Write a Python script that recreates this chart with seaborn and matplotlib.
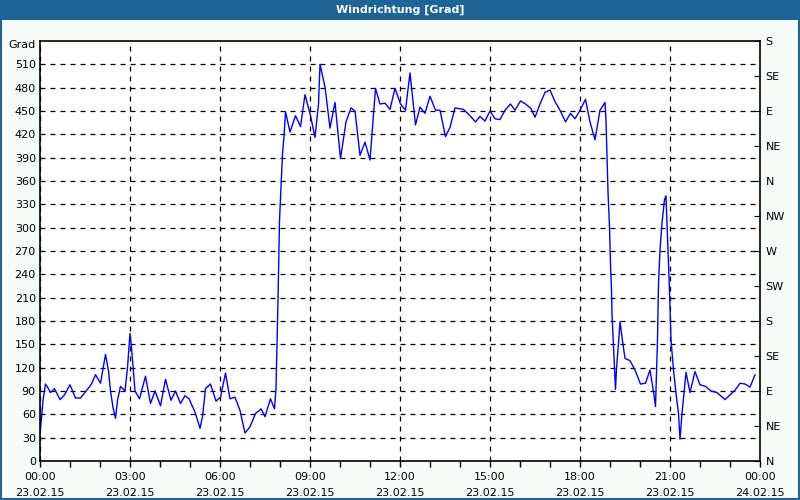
import seaborn as sns
import pandas as pd
import matplotlib.pyplot as plt
import matplotlib.dates as mdates
from matplotlib.patches import Rectangle

# readings: time of day (23.02.15) and wind direction in degrees
times = ["00:00","00:04","00:06","00:11","00:15","00:21","00:29","00:40","00:49","01:00",
         "01:11","01:21","01:36","01:43","01:51","02:01","02:11","02:17","02:21","02:26",
         "02:31","02:35","02:41","02:50","02:55","03:00","03:03","03:10","03:19","03:31",
         "03:41","03:50","04:01","04:11","04:22","04:31","04:41","04:50","04:58","05:10",
         "05:20","05:25","05:31","05:41","05:52","06:01","06:11","06:20","06:30","06:40",
         "06:50","07:00","07:11","07:22","07:30","07:41","07:49","07:52","07:54","07:56",
         "07:59","08:02","08:05","08:08","08:11","08:20","08:31","08:41","08:50","09:01",
         "09:10","09:17","09:20","09:30","09:40","09:50","10:01","10:12","10:22","10:30",
         "10:40","10:50","11:00","11:11","11:20","11:30","11:40","11:50","12:01","12:11",
         "12:20","12:31","12:40","12:50","13:00","13:11","13:20","13:31","13:40","13:50",
         "14:07","14:20","14:31","14:40","14:50","15:00","15:10","15:20","15:30","15:41",
         "15:50","16:01","16:11","16:22","16:30","16:40","16:50","17:00","17:10","17:20",
         "17:31","17:41","17:50","18:00","18:11","18:20","18:30","18:40","18:50","18:52",
         "18:54","18:56","18:59","19:01","19:03","19:04","19:06","19:08","19:11","19:13",
         "19:17","19:20","19:24","19:30","19:40","19:50","20:01","20:11","20:20","20:28",
         "20:31","20:35","20:37","20:40","20:44","20:49","20:52","20:55","20:59","21:02",
         "21:07","21:12","21:17","21:20","21:24","21:28","21:32","21:40","21:50","22:00",
         "22:11","22:22","22:34","22:50","23:10","23:20","23:30","23:40","23:50"]
degrees = [36,62,78,99,95,88,93,79,85,98,
           81,81,93,99,111,100,137,116,90,69,
           55,78,96,90,120,164,146,90,80,109,
           74,90,71,105,78,90,74,84,80,63,
           42,57,93,99,77,82,113,80,82,65,
           36,44,61,67,57,80,67,93,151,207,
           309,352,395,417,449,423,444,430,471,444,
           416,459,510,481,428,461,389,436,454,450,
           393,410,387,479,459,460,452,479,459,451,
           499,432,455,447,469,451,451,417,429,454,
           452,444,436,443,437,450,440,439,451,459,
           451,463,459,453,442,459,474,477,462,451,
           436,447,440,451,465,436,413,451,461,438,
           391,346,301,254,219,189,162,136,92,119,
           151,179,159,132,129,117,99,100,117,85,
           70,156,228,271,306,336,341,288,218,156,
           117,87,61,28,61,87,114,88,115,98,
           96,90,88,79,91,100,99,95,111]

left_ticks = list(range(0, 540, 30))
compass_ticks = list(range(0, 541, 45))
compass_labels = ["N", "NE", "E", "SE", "S", "SW", "W", "NW", "N", "NE", "E", "SE", "S"]

df = pd.DataFrame({"time": pd.to_datetime(["2015-02-23 " + t for t in times]),
                   "deg": degrees})

sns.set_style("white")
plt.rcParams["font.family"] = ["DejaVu Sans"]
plt.rcParams["text.color"] = "black"
plt.rcParams["xtick.color"] = "black"
plt.rcParams["ytick.color"] = "black"
plt.rcParams["xtick.labelcolor"] = "black"
plt.rcParams["ytick.labelcolor"] = "black"

bg = "#f8fcf8"
blue_bar = "#1e6496"

fig = plt.figure(figsize=(8, 5), dpi=100, facecolor=bg)
ax = fig.add_axes([0.05, 0.078, 0.90, 0.84])
ax.set_facecolor("white")

sns.lineplot(data=df, x="time", y="deg", color="#0000ff", linewidth=1, ax=ax)

ax.set_xlim(pd.Timestamp("2015-02-23 00:00"), pd.Timestamp("2015-02-24 00:00"))
ax.set_ylim(0, 540)
ax.set_yticks(left_ticks)
ax.xaxis.set_major_locator(mdates.HourLocator(interval=3))
ax.xaxis.set_minor_locator(mdates.HourLocator())
ax.xaxis.set_major_formatter(mdates.DateFormatter("%H:%M\n%d.%m.%y"))
ax.set_xlabel("")
ax.set_ylabel("")
ax.grid(True, which="major", color="black", linestyle=(0, (4, 4)), linewidth=0.9)
for s in ax.spines.values():
    s.set_color("black")
    s.set_linewidth(1.2)
ax.tick_params(axis="x", which="both", direction="out", length=4, width=1,
               labelsize=8, pad=4, bottom=True)
ax.tick_params(axis="y", direction="out", length=0, labelsize=8, pad=3)
for lbl in ax.get_xticklabels():
    lbl.set_linespacing(1.75)

ax2 = ax.twinx()
ax2.set_ylim(0, 540)
ax2.set_yticks(compass_ticks)
ax2.set_yticklabels(compass_labels)
ax2.tick_params(axis="y", direction="in", length=4, labelsize=8, pad=4)
for s in ax2.spines.values():
    s.set_visible(False)

fig.text(22 / 800, 1 - 45 / 500, "Grad", fontsize=8, ha="center", va="center")

# title bar and frame
fig.patches.append(Rectangle((0, 1 - 20 / 500), 1, 20 / 500, transform=fig.transFigure,
                             facecolor=blue_bar, edgecolor="none", zorder=0))
fig.patches.append(Rectangle((0.001, 0.002), 0.998, 0.996, transform=fig.transFigure,
                             facecolor="none", edgecolor=blue_bar, linewidth=1.5))
fig.text(0.5, 1 - 10 / 500, "Windrichtung [Grad]", color="white", fontsize=8,
         fontweight="bold", ha="center", va="center")

fig.savefig("out.png", dpi=100, facecolor=bg)
